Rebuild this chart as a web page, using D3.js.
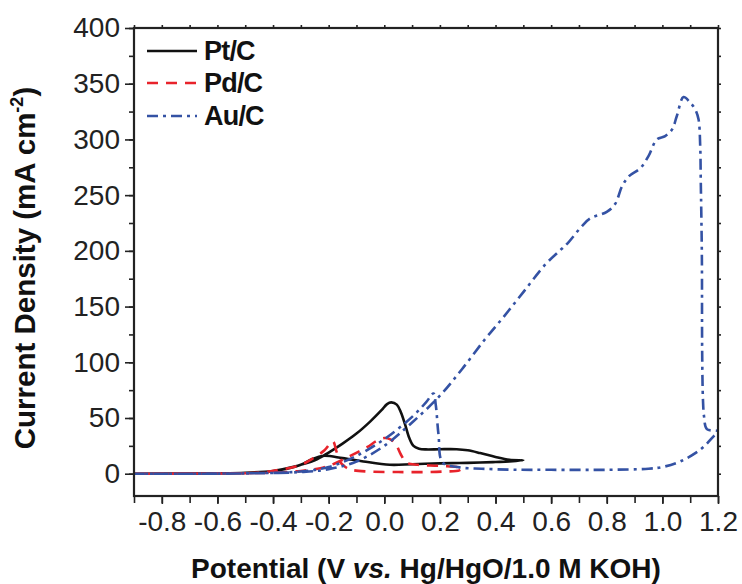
<!DOCTYPE html>
<html><head><meta charset="utf-8">
<script src="https://cdn.jsdelivr.net/npm/d3@7"></script>
<style>
html,body{margin:0;padding:0;background:#fff;}
svg{display:block;font-family:"Liberation Sans",Arial,Helvetica,sans-serif;}
</style></head>
<body>
<svg id="chart" width="742" height="584"></svg>
<script>
// ---- data ----
const xTicks = [-0.8,-0.6,-0.4,-0.2,0.0,0.2,0.4,0.6,0.8,1.0,1.2];
const yTicks = [0,50,100,150,200,250,300,350,400];
const seriesNames = ["Pt/C","Pd/C","Au/C"];

const ptPotential = [-0.9,-0.7,-0.6,-0.5,-0.4,-0.33,-0.25,-0.2,-0.15,-0.1,-0.05,-0.01,0.01,0.025,0.045,0.06,0.075,0.09,0.105,0.125,0.15,0.2,0.26,0.3,0.345,0.4,0.45,0.5,
  0.45,0.4,0.345,0.27,0.2,0.1,0.02,-0.075,-0.15,-0.22,-0.26,-0.3,-0.35,-0.4,-0.5,-0.6,-0.9];
const ptCurrent = [0,0.1,0.3,0.8,2.5,6,12,19,27,36,47,57,62.5,64,62,55,44,32,25,22.5,21.8,22,22,21,18.5,15,12.5,12,
  11,10.5,10,9.6,9.3,8.5,8,11,14,16,13,8,4.5,2.5,0.8,0.3,0];

const pdPotential = [-0.9,-0.6,-0.45,-0.375,-0.3,-0.255,-0.215,-0.185,-0.172,-0.16,-0.14,-0.12,-0.06,0.05,0.15,0.22,0.27,
  0.28,0.2,0.12,0.08,0.06,0.04,0.02,0.0,-0.03,-0.06,-0.09,-0.13,-0.18,-0.23,-0.3,-0.4,-0.6,-0.9];
const pdCurrent = [0,0.3,1,3.6,8,14,21,29,20,11,6,3.6,2,1.5,1.5,2,3,
  5,7,8,10,17,27,31,32,29,24,20,15,9,5,2.5,1,0.2,0];

const auPotential = [-0.9,-0.5,-0.3,-0.2,-0.1,0.0,0.1,0.2,0.28,0.36,0.43,0.5,0.58,0.63,0.66,0.71,0.74,0.8,0.83,0.855,0.88,0.92,0.95,0.98,1.01,1.035,1.052,1.076,1.1,1.118,1.13,1.136,1.138,1.142,1.143,1.146,1.15,1.16,1.2,
  1.184,1.136,1.064,1.0,0.95,0.8,0.6,0.46,0.35,0.27,0.21,0.195,0.185,0.177,0.15,0.1,0.0,-0.1,-0.2,-0.3,-0.5,-0.9];
const auCurrent = [0,0.3,1.5,4,11,25,46,70,94,120,141,163,188,200,207,222,229,235,242,258,267,274,285,300,303,309,321,338,333,327,318,294,264,195,111,66,51,40,38,
  33.5,21.5,11,6,4.5,3.5,3.5,3.6,4.5,5.7,10,35,62,72,64,51,31,16,6,2,0.3,0];

// ---- layout ----
const svg = d3.select("#chart");
const L = 134, R = 718, T = 28, B = 496;
const x = d3.scaleLinear().domain([-0.9,1.2]).range([L,R]);
const y = d3.scaleLinear().domain([-20,400]).range([B,T]);
const fmtX = d => d3.format(".1f")(d).replace("\u2212","-");

const series = [
  {name:seriesNames[0], v:ptPotential, j:ptCurrent, color:"#111111", dash:null},
  {name:seriesNames[1], v:pdPotential, j:pdCurrent, color:"#e8232b", dash:"11,8"},
  {name:seriesNames[2], v:auPotential, j:auCurrent, color:"#3452a4", dash:"11,5,3,5"}
];

const line = d3.line().x(d=>x(d[0])).y(d=>y(d[1])).curve(d3.curveCatmullRom.alpha(0.5));

svg.append("clipPath").attr("id","clip").append("rect")
  .attr("x",L).attr("y",T).attr("width",R-L).attr("height",B-T);

const plot = svg.append("g").attr("clip-path","url(#clip)");
series.forEach(s=>{
  plot.append("path")
    .datum(s.v.map((v,i)=>[v,s.j[i]]))
    .attr("d",line)
    .attr("fill","none")
    .attr("stroke",s.color)
    .attr("stroke-width",2.6)
    .attr("stroke-dasharray",s.dash)
    .attr("stroke-linejoin","round");
});

// ---- axes ----
const xMinor = d3.range(-0.9,1.2001,0.1).map(d=>+d.toFixed(2));
const yMinor = d3.range(0,400.01,25);

const gxB = svg.append("g").attr("transform",`translate(0,${B})`)
  .call(d3.axisBottom(x).tickValues(xTicks).tickFormat(fmtX).tickSize(8).tickPadding(7));
gxB.append("g").call(d3.axisBottom(x).tickValues(xMinor).tickFormat("").tickSize(7));
svg.append("g").attr("transform",`translate(0,${T})`)
  .call(d3.axisTop(x).tickValues(xMinor).tickFormat("").tickSize(3));
const gyL = svg.append("g").attr("transform",`translate(${L},0)`)
  .call(d3.axisLeft(y).tickValues(yTicks).tickSize(9).tickPadding(5));
gyL.append("g").call(d3.axisLeft(y).tickValues(yMinor).tickFormat("").tickSize(5));
svg.append("g").attr("transform",`translate(${R},0)`)
  .call(d3.axisRight(y).tickValues(yMinor).tickFormat("").tickSize(3));

svg.selectAll(".domain").remove();
svg.selectAll(".tick line").attr("stroke","#222").attr("stroke-width",1.6);
svg.selectAll(".tick text").attr("font-size",28).attr("fill","#222")
  .attr("font-family","'Liberation Sans',Arial,sans-serif");
gxB.selectAll(".tick text").attr("dy","0.71em");

svg.append("rect").attr("x",L).attr("y",T).attr("width",R-L).attr("height",B-T)
  .attr("fill","none").attr("stroke","#222").attr("stroke-width",2.2);

// axis titles
const xt = svg.append("text").attr("x",(L+R)/2).attr("y",578)
  .attr("text-anchor","middle").attr("font-size",28).attr("font-weight","bold").attr("fill","#111");
xt.append("tspan").text("Potential (V ");
xt.append("tspan").attr("font-style","italic").text("vs.");
xt.append("tspan").text(" Hg/HgO/1.0 M KOH)");

const yt = svg.append("text").attr("transform",`translate(35,${(T+B)/2+6}) rotate(-90)`)
  .attr("text-anchor","middle").attr("font-size",29.5).attr("font-weight","bold").attr("fill","#111");
yt.append("tspan").text("Current Density (mA cm");
yt.append("tspan").attr("font-size",18).attr("dy",-12).text("-2");
yt.append("tspan").attr("dy",12).text(")");

// legend
const lg = svg.append("g");
const legY = [51,83,116];
series.forEach((s,i)=>{
  lg.append("line").attr("x1",147).attr("x2",197).attr("y1",legY[i]).attr("y2",legY[i])
    .attr("stroke",s.color).attr("stroke-width",2.6).attr("stroke-dasharray",s.dash);
  lg.append("text").attr("x",204).attr("y",legY[i]+9).attr("font-size",27).attr("font-weight","bold")
    .attr("letter-spacing",-0.8).attr("fill","#111").text(s.name);
});
</script>
</body></html>
